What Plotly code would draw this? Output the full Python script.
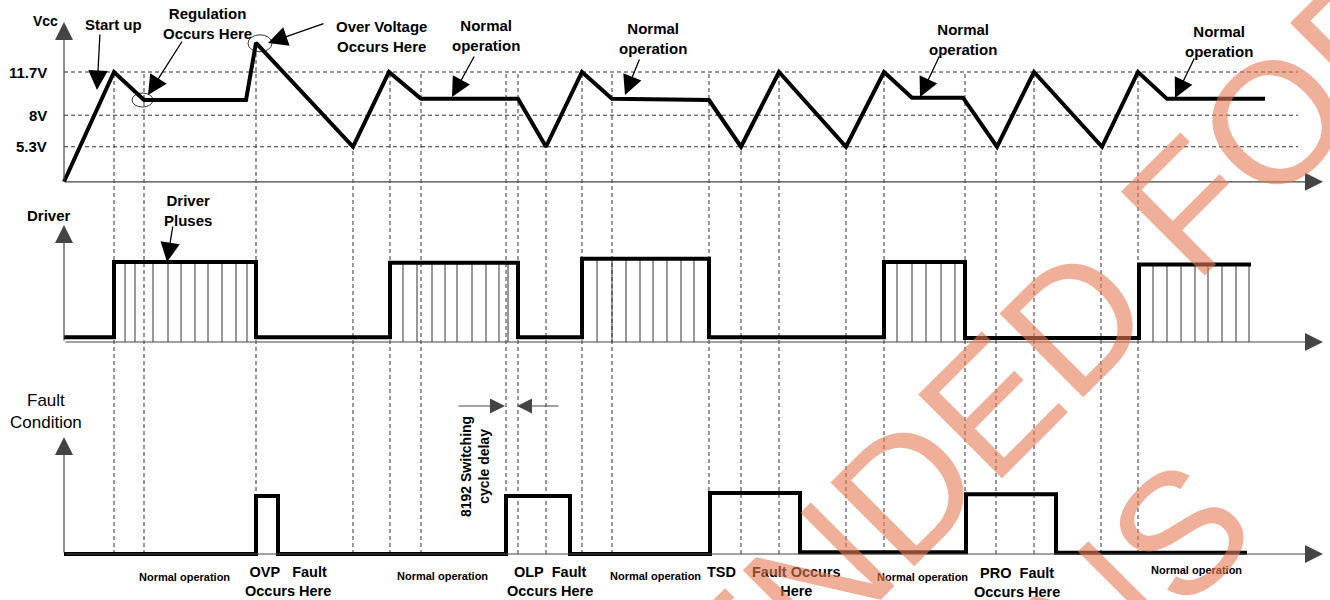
import plotly.graph_objects as go

# ---- data: shared time axis (arbitrary units) ----
vcc_t = [64, 114, 144, 246, 256, 353, 389, 421, 518, 546, 582, 612, 709,
         741, 779, 846, 884, 912, 963, 997, 1034, 1102, 1138, 1167, 1265]
vcc_v = [2.3, 11.7, 9.3, 9.3, 14.2, 5.3, 11.7, 9.4, 9.4, 5.3, 11.7, 9.4, 9.3,
         5.3, 11.7, 5.3, 11.7, 9.5, 9.5, 5.3, 11.7, 5.3, 11.7, 9.4, 9.4]
vcc_levels = [11.7, 8, 5.3]
vcc_labels = ["11.7V", "8V", "5.3V"]

drv_t = [64, 114, 256, 390, 518, 582, 709, 884, 965, 1139, 1251]
drv_v = [0.06, 1.0, 0.06, 0.99, 0.06, 1.04, 0.06, 1.0, 0.05, 0.97, 0.97]
pulse_t = [125, 135, 153, 168, 181, 195, 208, 222, 236, 247,
           403, 417, 432, 445, 457, 472, 486, 499, 508,
           597, 612, 626, 640, 653, 667, 681, 694,
           897, 912, 926, 941, 955,
           1153, 1167, 1181, 1195, 1208, 1222, 1236, 1249]

flt_t = [64, 256, 278, 506, 570, 710, 800, 966, 1056, 1247]
flt_v = [0, 1.0, 0, 1.0, 0, 1.05, 0.03, 1.03, 0.02, 0.02]

event_t = [114, 144, 256, 353, 390, 421, 506, 518, 546, 582, 612, 709,
           741, 779, 846, 884, 965, 996, 1034, 1101, 1138]
event_top = [11.7, 11.7, 14.2, 5.3, 11.7, 11.7, 11.7, 11.7, 5.3, 11.7, 11.7, 11.7,
             5.3, 11.7, 5.3, 11.7, 11.7, 5.3, 11.7, 5.3, 11.7]

# ---- layout helpers (pixel geometry of the three panels) ----
W, H = 1330, 600
FONT = "Arial, Liberation Sans, sans-serif"
PX_PER_V = 11.68


def v_of_px(px):
    return 11.7 - (px - 72) / PX_PER_V


def vcc_px(v):
    return 72 - (v - 11.7) * PX_PER_V


def paper(px):
    return 1 - px / H


DRV_BASE, DRV_SCALE = 342, 80
FLT_BASE, FLT_SCALE = 554, 58
T0, T_END, H_END = 64, 1323, 1298

# driver pulse lines, each up to the level of its burst
def level_at(t, ts, vs):
    lvl = vs[0]
    for a, b in zip(ts, vs):
        if a <= t:
            lvl = b
    return lvl


pl_x, pl_y = [], []
for t in pulse_t:
    pl_x += [t, t, None]
    pl_y += [0, level_at(t, drv_t, drv_v), None]

fig = go.Figure()
fig.add_trace(go.Scatter(x=vcc_t, y=vcc_v, mode="lines", xaxis="x", yaxis="y",
                         line=dict(color="black", width=4)))
fig.add_trace(go.Scatter(x=pl_x, y=pl_y, mode="lines", xaxis="x", yaxis="y2",
                         line=dict(color="#333", width=1)))
fig.add_trace(go.Scatter(x=drv_t, y=drv_v, mode="lines", xaxis="x", yaxis="y2",
                         line=dict(color="black", width=4, shape="hv")))
fig.add_trace(go.Scatter(x=flt_t, y=flt_v, mode="lines", xaxis="x", yaxis="y3",
                         line=dict(color="black", width=4, shape="hv")))

shapes = []
for lv in vcc_levels:
    shapes.append(dict(type="line", xref="x", yref="y", x0=T0, x1=H_END, y0=lv, y1=lv,
                       line=dict(color="#333", width=1, dash="4px,3px"), layer="below"))
for t, top in zip(event_t, event_top):
    shapes.append(dict(type="line", xref="x", yref="paper", x0=t, x1=t,
                       y0=paper(FLT_BASE), y1=paper(vcc_px(top)),
                       line=dict(color="#333", width=1, dash="4px,3px"), layer="below"))
# circles round the regulation point and the over-voltage peak
shapes.append(dict(type="circle", xref="x", yref="y", xsizemode="pixel", ysizemode="pixel",
                   xanchor=vcc_t[2], yanchor=vcc_v[2], x0=-12, x1=9, y0=-7, y1=7,
                   line=dict(color="black", width=0.8)))
shapes.append(dict(type="circle", xref="x", yref="y", xsizemode="pixel", ysizemode="pixel",
                   xanchor=vcc_t[4], yanchor=vcc_v[4], x0=-8, x1=16, y0=-9, y1=8,
                   line=dict(color="black", width=0.8)))

ann = []


def label(text, x, ypx, size=15, bold=True, anchor="center", angle=0):
    ann.append(dict(text=text, x=x, y=paper(ypx), xref="x", yref="paper", showarrow=False,
                    xanchor=anchor, yanchor="middle", textangle=angle, align="center",
                    font=dict(family=FONT, size=size, color="black",
                              weight="bold" if bold else "normal")))


def arrow(x, y, yref, ax, ay, color="black", width=1.3, size=3, abs_tail=False):
    d = dict(text="", x=x, y=y, xref="x", yref=yref, showarrow=True, arrowhead=2,
             arrowsize=size, arrowwidth=width, arrowcolor=color, ax=ax, ay=ay, standoff=0)
    if abs_tail:
        d.update(axref="x", ayref=yref)
    ann.append(d)


# axes with arrow heads
for yref, base, tip in [("y", 2.3, v_of_px(22)),
                        ("y2", 0, (DRV_BASE - 225) / DRV_SCALE),
                        ("y3", 0, (FLT_BASE - 437) / FLT_SCALE)]:
    arrow(T0, tip, yref, T0, base, color="#444", width=1.2, size=3, abs_tail=True)
    arrow(T_END, base, yref, T0, base, color="#444", width=1.2, size=3, abs_tail=True)

for lv, txt in zip(vcc_levels, vcc_labels):
    ann.append(dict(text=txt, x=49, y=lv, xref="x", yref="y", showarrow=False,
                    xanchor="right", yanchor="middle",
                    font=dict(family=FONT, size=15, color="black", weight="bold")))

label("Vcc", 45, 21, size=14)
label("Start up", 113, 25)
label("Regulation<br>Occurs Here", 207, 23)
label("Over Voltage<br>Occurs Here", 381, 36)
for x, y in [(486, 35), (653, 39), (963, 40), (1219, 41)]:
    label("Normal<br>operation", x, y)
label("Driver", 49, 215)
label("Driver<br>Pluses", 188, 210)
label("Fault<br>Condition", 46, 411, size=17, bold=False)
for x, y in [(184, 577), (442, 576), (655, 576), (922, 577), (1196, 570)]:
    label("Normal operation", x, y, size=11)
label("OVP\u00a0\u00a0\u00a0Fault<br>Occurs Here", 288, 581, size=14.5)
label("OLP\u00a0\u00a0Fault<br>Occurs Here", 550, 581, size=14.5)
label("TSD", 721, 572, size=14.5)
label("Fault Occurs<br>Here", 796, 581, size=14.5)
label("PRO\u00a0\u00a0Fault<br>Occurs Here", 1017, 582, size=14.5)
label("8192 Switching<br>cycle delay", 475, 467, size=14, angle=-90)

# callout arrows
arrow(97, v_of_px(90), "y", 3, -57)
arrow(148, v_of_px(95), "y", 35, -55)
arrow(268, v_of_px(43), "y", 57, -20)
arrow(452, v_of_px(97), "y", 23, -42)
arrow(625, v_of_px(95), "y", 15, -37)
arrow(920, v_of_px(97), "y", 20, -42)
arrow(1175, v_of_px(98), "y", 20, -41)
arrow(167, 1.0, "y2", 6, -37)
# 8192 switching cycle delay markers
y_delay = (FLT_BASE - 406) / FLT_SCALE
arrow(505, y_delay, "y3", 457, y_delay, color="#444", width=1, size=3, abs_tail=True)
arrow(517, y_delay, "y3", 560, y_delay, color="#444", width=1, size=3, abs_tail=True)

# watermark
ann.append(dict(text="NOT RECOMMENDED FOR<br>NEW DESIGNS", x=709 / W, y=paper(845),
                xref="paper", yref="paper", showarrow=False, textangle=-45,
                xanchor="center", yanchor="middle", align="center",
                font=dict(family=FONT, size=172, color="rgba(228,122,83,0.6)")))

fig.update_layout(
    width=W, height=H, margin=dict(l=0, r=0, t=0, b=0),
    paper_bgcolor="white", plot_bgcolor="rgba(0,0,0,0)", showlegend=False,
    xaxis=dict(range=[0, W], visible=False, anchor="y"),
    yaxis=dict(domain=[paper(190), 1], range=[v_of_px(190), v_of_px(0)], visible=False, anchor="x"),
    yaxis2=dict(domain=[paper(350), paper(195)],
                range=[(DRV_BASE - 350) / DRV_SCALE, (DRV_BASE - 195) / DRV_SCALE],
                visible=False, anchor="x"),
    yaxis3=dict(domain=[paper(562), paper(380)],
                range=[(FLT_BASE - 562) / FLT_SCALE, (FLT_BASE - 380) / FLT_SCALE],
                visible=False, anchor="x"),
    shapes=shapes, annotations=ann,
)

fig.write_html("out.html", config={"displayModeBar": False},
               post_script="document.body.style.margin='0';")
